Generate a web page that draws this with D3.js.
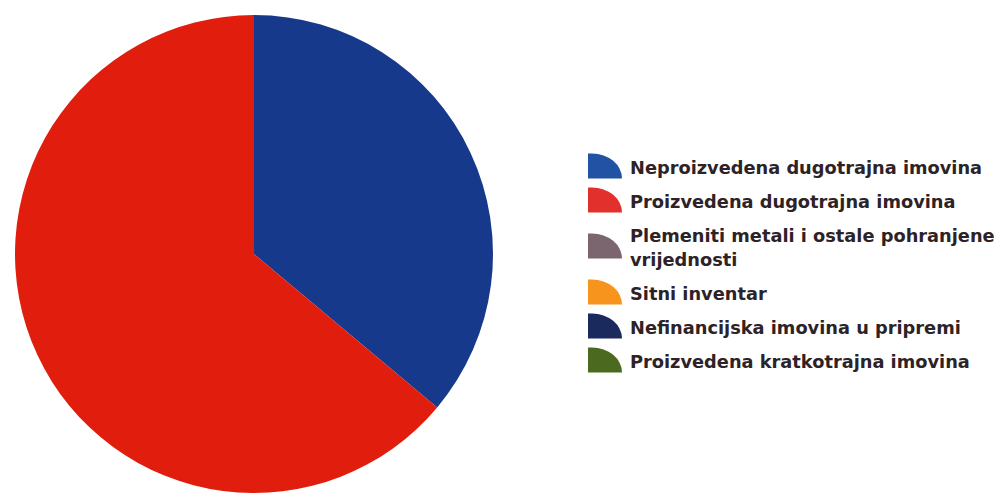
<!DOCTYPE html>
<html>
<head>
<meta charset="utf-8">
<script src="https://cdn.jsdelivr.net/npm/d3@7"></script>
<style>
  html, body { margin: 0; padding: 0; background: #ffffff; }
  svg { display: block; }
</style>
</head>
<body>
<svg id="chart" width="1006" height="497"></svg>
<script>
const categories = [
  "Neproizvedena dugotrajna imovina",
  "Proizvedena dugotrajna imovina",
  "Plemeniti metali i ostale pohranjene vrijednosti",
  "Sitni inventar",
  "Nefinancijska imovina u pripremi",
  "Proizvedena kratkotrajna imovina"
];
const values = [36.1, 63.9, 0, 0, 0, 0];
const sliceColors = ["#17398c", "#e11d0d", "#7b6670", "#f7941d", "#1b2a5c", "#4b6a1f"];
const legendColors = ["#2152a3", "#e2302c", "#7b6670", "#f7941d", "#1b2a5c", "#4b6a1f"];

const svg = d3.select("#chart");

// Pie
const cx = 254, cy = 254, r = 239;
const pie = d3.pie().sort(null).value(d => d)(values);
const arc = d3.arc().innerRadius(0).outerRadius(r);
const color = d3.scaleOrdinal().domain(categories).range(sliceColors);

svg.append("g")
  .attr("transform", `translate(${cx},${cy})`)
  .selectAll("path")
  .data(pie.filter(p => p.value > 0))
  .join("path")
  .attr("d", arc)
  .attr("fill", (d) => color(categories[d.index]));

// Legend
const legend = svg.append("g");
const iconX = 588, iconW = 34, iconH = 25, textX = 630;
const lineH = 24, rowGap = 34, maxTextW = 385;
const fontFamily = "DejaVu Sans, Verdana, sans-serif", fontSize = 17.8;
const legendColor = d3.scaleOrdinal().domain(categories).range(legendColors);

function wrap(label) {
  const t = legend.append("text").attr("font-family", fontFamily)
    .attr("font-weight", "bold").attr("font-size", fontSize).text("");
  const words = label.split(" ");
  const lines = [];
  let cur = [];
  for (const w of words) {
    const trial = cur.concat([w]).join(" ");
    t.text(trial);
    if (t.node().getComputedTextLength() > maxTextW && cur.length) {
      lines.push(cur.join(" "));
      cur = [w];
    } else {
      cur.push(w);
    }
  }
  if (cur.length) lines.push(cur.join(" "));
  t.remove();
  return lines;
}

let y = 166;
categories.forEach((cat, i) => {
  const lines = wrap(cat);
  const extra = (lines.length - 1) * lineH;
  if (i > 0) y += extra / 2;
  const g = legend.append("g");
  const x0 = iconX, y0 = y - iconH / 2;
  g.append("path")
    .attr("d", `M${x0},${y0 + iconH} V${y0} H${x0 + 4} A${iconW - 4},${iconH} 0 0 1 ${x0 + iconW},${y0 + iconH} Z`)
    .attr("fill", legendColor(cat));
  const text = g.append("text")
    .attr("x", textX)
    .attr("font-family", fontFamily)
    .attr("font-weight", "bold")
    .attr("font-size", fontSize)
    .attr("fill", "#2d2326");
  lines.forEach((ln, j) => {
    text.append("tspan")
      .attr("x", textX)
      .attr("y", y - extra / 2 + j * lineH + 8)
      .text(ln);
  });
  y += extra / 2 + rowGap;
});
</script>
</body>
</html>
